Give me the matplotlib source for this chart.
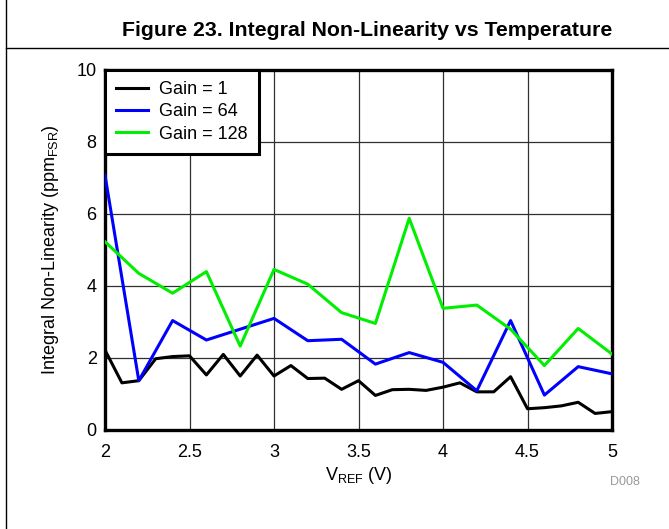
import matplotlib
matplotlib.use("Agg")
import matplotlib.pyplot as plt
from matplotlib.lines import Line2D

plt.rcParams['font.family'] = ['Liberation Sans', 'DejaVu Sans']

vref_fine = [2.0, 2.1, 2.2, 2.3, 2.4, 2.5, 2.6, 2.7, 2.8, 2.9, 3.0, 3.1, 3.2, 3.3, 3.4, 3.5,
             3.6, 3.7, 3.8, 3.9, 4.0, 4.1, 4.2, 4.3, 4.4, 4.5, 4.6, 4.7, 4.8, 4.9, 5.0]
gain1 = [2.22, 1.31, 1.37, 1.98, 2.04, 2.06, 1.53, 2.10, 1.50, 2.08, 1.50, 1.79, 1.43, 1.44, 1.13, 1.37,
         0.96, 1.12, 1.13, 1.10, 1.19, 1.31, 1.06, 1.06, 1.48, 0.59, 0.62, 0.67, 0.77, 0.46, 0.51]

vref_coarse = [2.0, 2.2, 2.4, 2.6, 2.8, 3.0, 3.2, 3.4, 3.6, 3.8, 4.0, 4.2, 4.4, 4.6, 4.8, 5.0]
gain64 = [7.08, 1.37, 3.04, 2.50, 2.80, 3.10, 2.48, 2.52, 1.83, 2.15, 1.88, 1.09, 3.04, 0.97, 1.76, 1.56]
gain128 = [5.23, 4.35, 3.80, 4.40, 2.33, 4.46, 4.05, 3.26, 2.96, 5.88, 3.38, 3.47, 2.80, 1.79, 2.82, 2.11]

labels = ["Gain = 1", "Gain = 64", "Gain = 128"]
colors = ["#000000", "#0000ff", "#00ee00"]

W, H = 669, 529
fig = plt.figure(figsize=(W / 100, H / 100), dpi=100)
ax = fig.add_axes([105 / W, (H - 430) / H, 507 / W, 360 / H])

ax.plot(vref_fine, gain1, color=colors[0], lw=2.2, label=labels[0], zorder=3)
ax.plot(vref_coarse, gain64, color=colors[1], lw=2.2, label=labels[1], zorder=3)
ax.plot(vref_coarse, gain128, color=colors[2], lw=2.2, label=labels[2], zorder=3)

ax.set_xlim(2, 5)
ax.set_ylim(0, 10)
ax.set_xticks([2, 2.5, 3, 3.5, 4, 4.5, 5])
ax.set_xticklabels(["2", "2.5", "3", "3.5", "4", "4.5", "5"])
ax.set_yticks([0, 2, 4, 6, 8, 10])
ax.tick_params(axis='x', length=0, labelsize=13, pad=10, colors='black')
ax.tick_params(axis='y', length=0, labelsize=13, pad=6, colors='black')
ax.grid(True, color='#303030', lw=0.9)
for s in ax.spines.values():
    s.set_linewidth(2.4)
    s.set_color('black')

ax.set_xlabel(r"V$_{\mathregular{REF}}$ (V)", fontsize=13, labelpad=3)
ax.set_ylabel(r"Integral Non-Linearity (ppm$_{\mathregular{FSR}}$)", fontsize=13, labelpad=11)

leg = ax.legend(loc='upper left', fontsize=13, frameon=True, fancybox=False,
                borderaxespad=0, handlelength=1.8, handletextpad=0.6,
                labelspacing=0.3, borderpad=0.6)
leg.get_frame().set_edgecolor('black')
leg.get_frame().set_linewidth(2.2)
leg.get_frame().set_alpha(1)
leg.set_zorder(5)

fig.text(612 / W, 1 - 31 / H, "Figure 23. Integral Non-Linearity vs Temperature",
         ha='right', va='center', fontsize=15.3, fontweight='bold')
fig.text(640 / W, 1 - 482 / H, "D008", ha='right', va='center', fontsize=9, color='#999999')

fig.add_artist(Line2D([6 / W, 6 / W], [0, 1], color='black', lw=1.0, transform=fig.transFigure))
fig.add_artist(Line2D([6 / W, 1], [1 - 48 / H, 1 - 48 / H], color='black', lw=1.0, transform=fig.transFigure))

fig.savefig("out.png", dpi=100)
